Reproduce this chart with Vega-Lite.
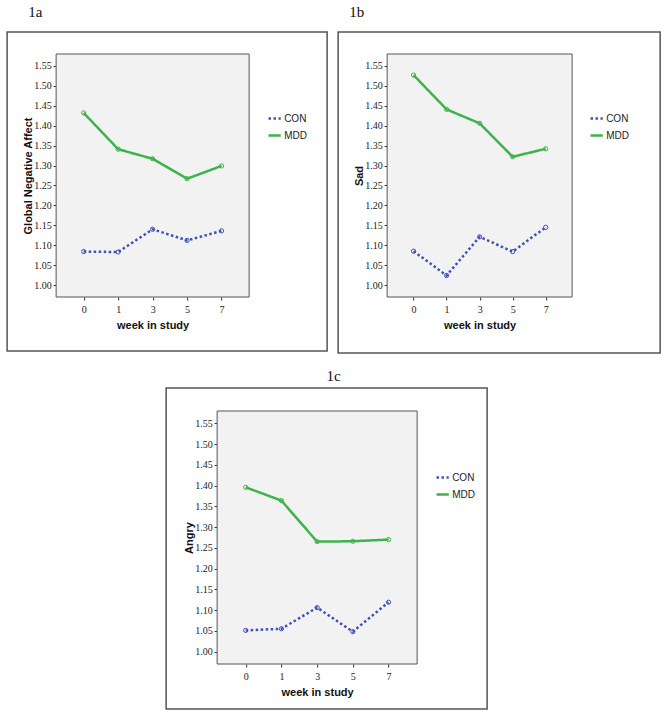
{
  "$schema": "https://vega.github.io/schema/vega-lite/v6.json",
  "background": "white",
  "padding": {"left": 6, "top": 4, "right": 0, "bottom": 0},
  "datasets": {
    "ga": [
      {"week": 0, "group": "CON", "value": 1.084},
      {"week": 1, "group": "CON", "value": 1.083},
      {"week": 3, "group": "CON", "value": 1.140},
      {"week": 5, "group": "CON", "value": 1.112},
      {"week": 7, "group": "CON", "value": 1.136},
      {"week": 0, "group": "MDD", "value": 1.432},
      {"week": 1, "group": "MDD", "value": 1.341},
      {"week": 3, "group": "MDD", "value": 1.317},
      {"week": 5, "group": "MDD", "value": 1.267},
      {"week": 7, "group": "MDD", "value": 1.299}
    ],
    "sad": [
      {"week": 0, "group": "CON", "value": 1.085},
      {"week": 1, "group": "CON", "value": 1.024},
      {"week": 3, "group": "CON", "value": 1.121},
      {"week": 5, "group": "CON", "value": 1.084},
      {"week": 7, "group": "CON", "value": 1.145},
      {"week": 0, "group": "MDD", "value": 1.527},
      {"week": 1, "group": "MDD", "value": 1.441},
      {"week": 3, "group": "MDD", "value": 1.406},
      {"week": 5, "group": "MDD", "value": 1.322},
      {"week": 7, "group": "MDD", "value": 1.342}
    ],
    "angry": [
      {"week": 0, "group": "CON", "value": 1.051},
      {"week": 1, "group": "CON", "value": 1.055},
      {"week": 3, "group": "CON", "value": 1.106},
      {"week": 5, "group": "CON", "value": 1.048},
      {"week": 7, "group": "CON", "value": 1.119},
      {"week": 0, "group": "MDD", "value": 1.396},
      {"week": 1, "group": "MDD", "value": 1.364},
      {"week": 3, "group": "MDD", "value": 1.265},
      {"week": 5, "group": "MDD", "value": 1.266},
      {"week": 7, "group": "MDD", "value": 1.270}
    ]
  },
  "resolve": {
    "scale": {"color": "independent", "strokeDash": "independent"},
    "legend": {"color": "independent", "strokeDash": "independent"}
  },
  "vconcat": [
    {
      "resolve": {
        "scale": {"color": "independent", "strokeDash": "independent"},
        "legend": {"color": "independent", "strokeDash": "independent"}
      },
      "hconcat": [
        {
          "width": 320, "height": 319,
          "title": {"text": "1a", "anchor": "start", "dx": 21, "offset": 12},
          "resolve": {"scale": {"x": "independent"}},
          "layer": [
            {
              "data": {"values": [{"frame": "plot"}]},
              "mark": {"type": "rect", "fill": "#f2f2f2", "stroke": "#555555", "strokeWidth": 1},
              "encoding": {
                "x": {"datum": 0, "type": "quantitative", "scale": {"domain": [0, 1], "range": [49, 242]}, "axis": null},
                "x2": {"datum": 1},
                "y": {"datum": 0.97, "type": "quantitative", "scale": {"domain": [0.97, 1.58], "range": [265, 22]},
                      "axis": {"title": "Global Negative Affect", "offset": -49, "labelOverlap": false, "tickCount": 12, "values": [1.0, 1.05, 1.1, 1.15, 1.2, 1.25, 1.3, 1.35, 1.4, 1.45, 1.5, 1.55], "format": ".2f"}},
                "y2": {"datum": 1.58}
              }
            },
            {
              "data": {"name": "ga"},
              "encoding": {
                "x": {"field": "week", "type": "ordinal", "scale": {"type": "point", "range": [49, 242], "padding": 0.8},
                      "axis": {"title": "week in study", "offset": -54, "labelAngle": 0}},
                "y": {"field": "value", "type": "quantitative", "scale": {"domain": [0.97, 1.58], "range": [265, 22]},
                      "axis": {"title": "Global Negative Affect", "offset": -49, "labelOverlap": false, "tickCount": 12, "values": [1.0, 1.05, 1.1, 1.15, 1.2, 1.25, 1.3, 1.35, 1.4, 1.45, 1.5, 1.55], "format": ".2f"}},
                "color": {"field": "group", "type": "nominal", "scale": {"domain": ["CON", "MDD"], "range": ["#3f51b5", "#3cb44b"]},
                          "legend": {"orient": "none", "legendX": 260, "legendY": 79}}
              },
              "layer": [
                {"mark": {"type": "line", "strokeWidth": 2.5},
                 "encoding": {"strokeDash": {"field": "group", "type": "nominal", "scale": {"domain": ["CON", "MDD"], "range": [[2.5, 2.5], [1, 0]]},
                          "legend": {"orient": "none", "legendX": 260, "legendY": 79}}}},
                {"mark": {"type": "point", "filled": false, "size": 18, "strokeWidth": 1, "opacity": 1}}
              ]
            }
          ]
        },
        {
          "width": 322, "height": 321,
          "title": {"text": "1b", "anchor": "start", "dx": 11, "offset": 12},
          "resolve": {"scale": {"x": "independent"}},
          "layer": [
            {
              "data": {"values": [{"frame": "plot"}]},
              "mark": {"type": "rect", "fill": "#f2f2f2", "stroke": "#555555", "strokeWidth": 1},
              "encoding": {
                "x": {"datum": 0, "type": "quantitative", "scale": {"domain": [0, 1], "range": [49, 234]}, "axis": null},
                "x2": {"datum": 1},
                "y": {"datum": 0.97, "type": "quantitative", "scale": {"domain": [0.97, 1.58], "range": [265, 22]},
                      "axis": {"title": "Sad", "offset": -49, "labelOverlap": false, "tickCount": 12, "values": [1.0, 1.05, 1.1, 1.15, 1.2, 1.25, 1.3, 1.35, 1.4, 1.45, 1.5, 1.55], "format": ".2f"}},
                "y2": {"datum": 1.58}
              }
            },
            {
              "data": {"name": "sad"},
              "encoding": {
                "x": {"field": "week", "type": "ordinal", "scale": {"type": "point", "range": [49, 234], "padding": 0.8},
                      "axis": {"title": "week in study", "offset": -56, "labelAngle": 0}},
                "y": {"field": "value", "type": "quantitative", "scale": {"domain": [0.97, 1.58], "range": [265, 22]},
                      "axis": {"title": "Sad", "offset": -49, "labelOverlap": false, "tickCount": 12, "values": [1.0, 1.05, 1.1, 1.15, 1.2, 1.25, 1.3, 1.35, 1.4, 1.45, 1.5, 1.55], "format": ".2f"}},
                "color": {"field": "group", "type": "nominal", "scale": {"domain": ["CON", "MDD"], "range": ["#3f51b5", "#3cb44b"]},
                          "legend": {"orient": "none", "legendX": 251, "legendY": 79}}
              },
              "layer": [
                {"mark": {"type": "line", "strokeWidth": 2.5},
                 "encoding": {"strokeDash": {"field": "group", "type": "nominal", "scale": {"domain": ["CON", "MDD"], "range": [[2.5, 2.5], [1, 0]]},
                          "legend": {"orient": "none", "legendX": 251, "legendY": 79}}}},
                {"mark": {"type": "point", "filled": false, "size": 18, "strokeWidth": 1, "opacity": 1}}
              ]
            }
          ]
        }
      ],
      "spacing": 9
    },
    {
      "width": 321, "height": 321,
      "title": {"text": "1c", "anchor": "middle", "dx": 7, "offset": 4},
      "resolve": {"scale": {"x": "independent"}},
      "layer": [
        {
          "data": {"values": [{"frame": "plot"}]},
          "mark": {"type": "rect", "fill": "#f2f2f2", "stroke": "#555555", "strokeWidth": 1},
          "encoding": {
            "x": {"datum": 0, "type": "quantitative", "scale": {"domain": [0, 1], "range": [51, 251]}, "axis": null},
            "x2": {"datum": 1},
            "y": {"datum": 0.97, "type": "quantitative", "scale": {"domain": [0.97, 1.58], "range": [276, 23]},
                  "axis": {"title": "Angry", "offset": -51, "labelOverlap": false, "tickCount": 12, "values": [1.0, 1.05, 1.1, 1.15, 1.2, 1.25, 1.3, 1.35, 1.4, 1.45, 1.5, 1.55], "format": ".2f"}},
            "y2": {"datum": 1.58}
          }
        },
        {
          "data": {"name": "angry"},
          "encoding": {
            "x": {"field": "week", "type": "ordinal", "scale": {"type": "point", "range": [51, 251], "padding": 0.8},
                  "axis": {"title": "week in study", "offset": -45, "labelAngle": 0}},
            "y": {"field": "value", "type": "quantitative", "scale": {"domain": [0.97, 1.58], "range": [276, 23]},
                  "axis": {"title": "Angry", "offset": -51, "labelOverlap": false, "tickCount": 12, "values": [1.0, 1.05, 1.1, 1.15, 1.2, 1.25, 1.3, 1.35, 1.4, 1.45, 1.5, 1.55], "format": ".2f"}},
            "color": {"field": "group", "type": "nominal", "scale": {"domain": ["CON", "MDD"], "range": ["#3f51b5", "#3cb44b"]},
                      "legend": {"orient": "none", "legendX": 243, "legendY": 56, "padding": 26, "fillColor": "transparent"}}
          },
          "layer": [
            {"mark": {"type": "line", "strokeWidth": 2.5},
             "encoding": {"strokeDash": {"field": "group", "type": "nominal", "scale": {"domain": ["CON", "MDD"], "range": [[2.5, 2.5], [1, 0]]},
                      "legend": {"orient": "none", "legendX": 243, "legendY": 56, "padding": 26, "fillColor": "transparent"}}}},
            {"mark": {"type": "point", "filled": false, "size": 18, "strokeWidth": 1, "opacity": 1}}
          ]
        }
      ]
    }
  ],
  "spacing": 14,
  "center": true,
  "config": {
    "view": {"stroke": "#555555", "strokeWidth": 1.5, "fill": "white"},
    "title": {"font": "Liberation Serif", "fontSize": 15, "fontWeight": "normal", "color": "#111111"},
    "axis": {
      "domain": false,
      "grid": false,
      "ticks": true,
      "tickSize": 3,
      "tickColor": "#333333",
      "labelFont": "Liberation Sans Narrow",
      "labelFontSize": 10,
      "labelColor": "#222222",
      "labelPadding": 2,
      "labelOverlap": false,
      "titleFont": "Liberation Sans",
      "titleFontSize": 11,
      "titleFontWeight": "bold",
      "titleColor": "#111111"
    },
    "axisY": {"titlePadding": 0},
    "axisX": {"labelPadding": 4, "titlePadding": 5},
    "legend": {
      "title": null,
      "symbolType": "stroke",
      "symbolSize": 150,
      "symbolStrokeWidth": 2.5,
      "labelFont": "Liberation Sans",
      "labelFontSize": 10,
      "labelColor": "#222222",
      "labelOffset": 2,
      "rowPadding": 4
    }
  }
}
